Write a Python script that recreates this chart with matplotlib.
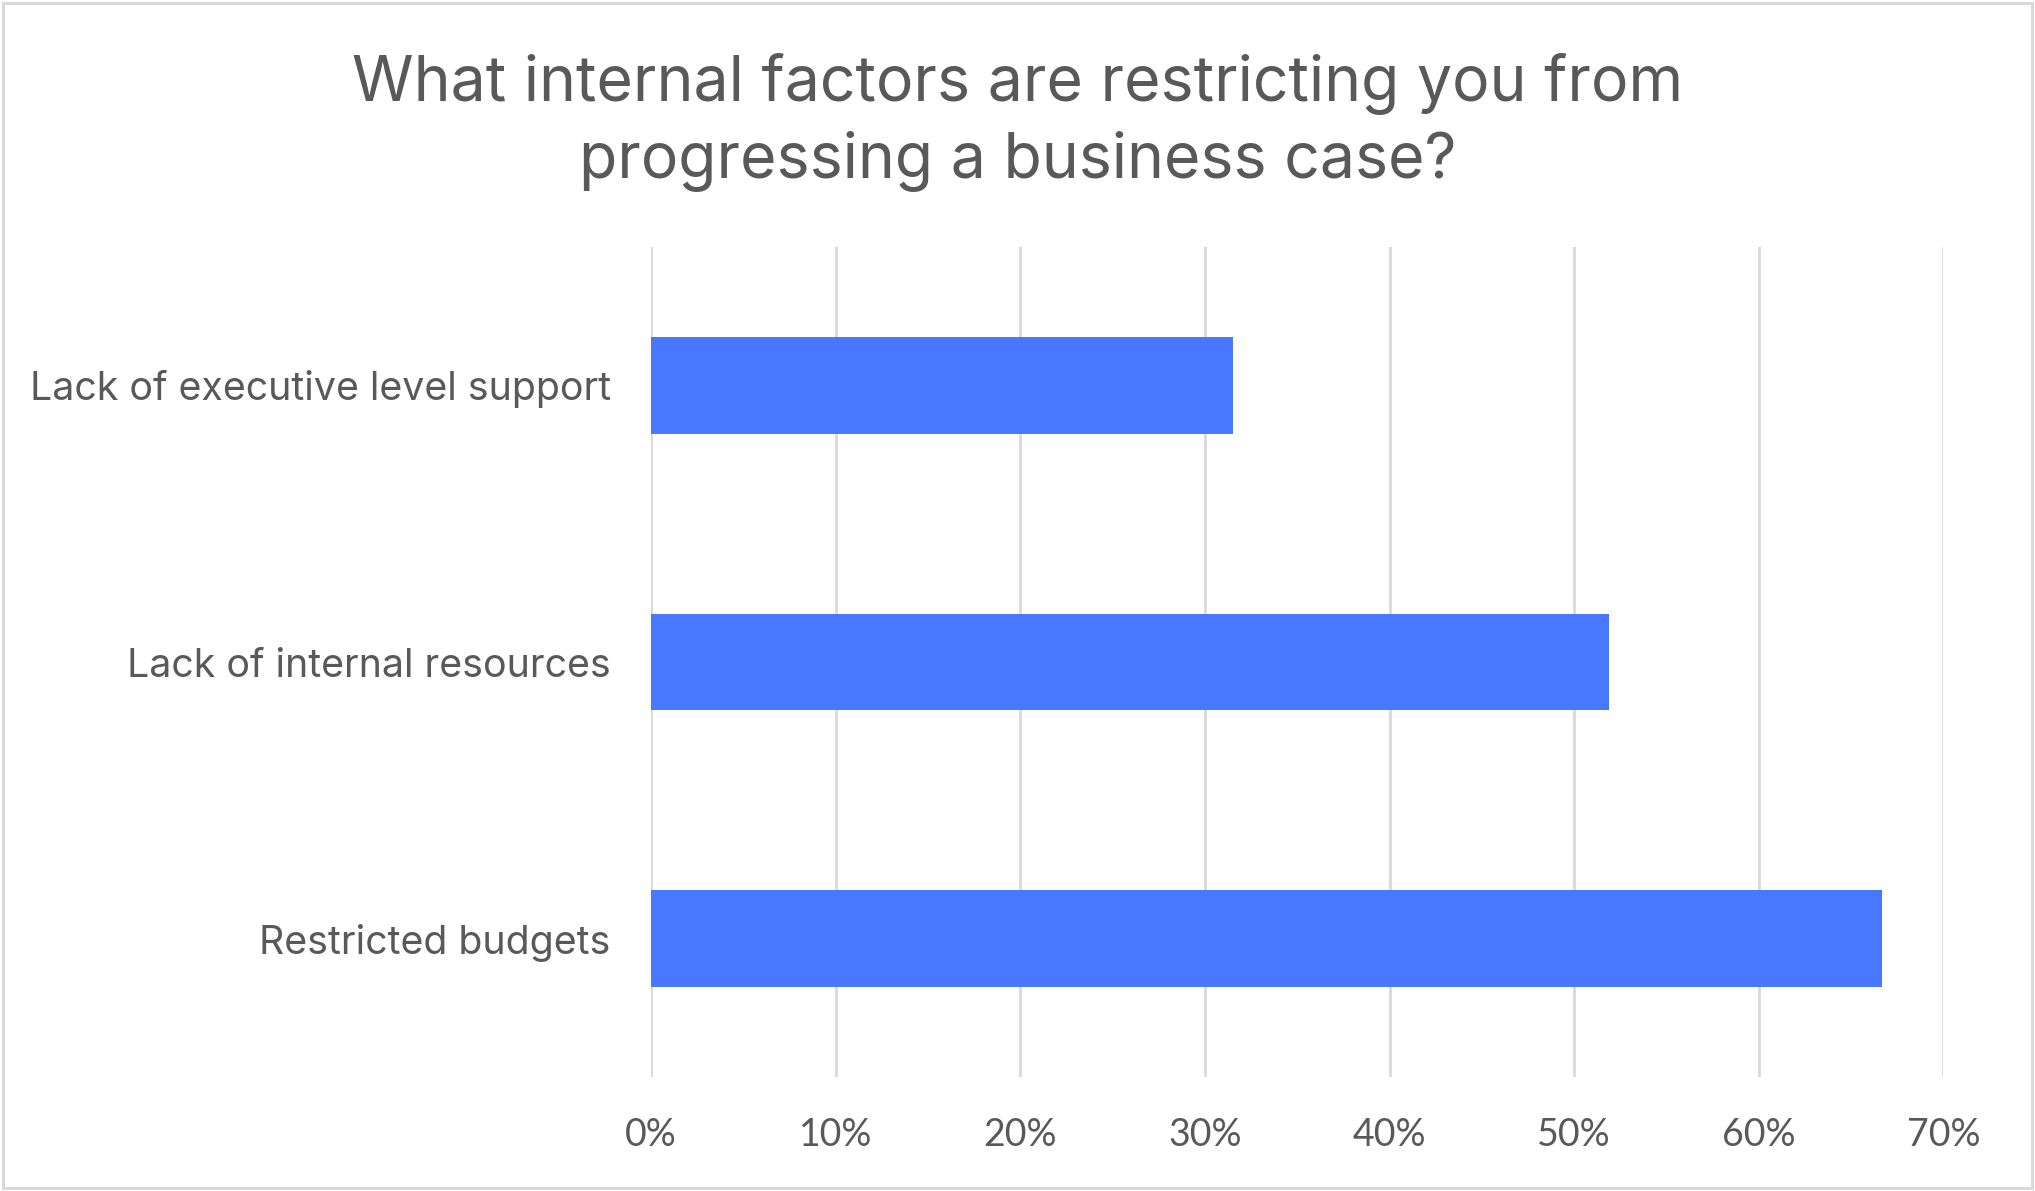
import matplotlib
matplotlib.use("Agg")
import matplotlib.pyplot as plt
from matplotlib.patches import Rectangle
from matplotlib.ticker import FuncFormatter

TEXT_CLR = "#595959"
BAR_CLR = "#4878FF"
GRID_CLR = "#D9D9D9"

title = "What internal factors are restricting you from\nprogressing a business case?"
categories = ["Lack of executive level support", "Lack of internal resources", "Restricted budgets"]
values = [31.5, 51.9, 66.7]
xticks = [0, 10, 20, 30, 40, 50, 60, 70]

fig = plt.figure(figsize=(20.35, 11.91), dpi=100)
fig.patch.set_facecolor("white")
fig.patches.append(Rectangle((0.0015, 0.0025), 0.997, 0.995, transform=fig.transFigure,
                             fill=False, edgecolor=GRID_CLR, lw=2.2))

ax = fig.add_axes([0.3199, 0.0957, 0.6351, 0.6969])
ypos = list(range(len(categories)))
ax.barh(ypos, values, height=0.35, color=BAR_CLR, zorder=3)
ax.set_ylim(len(categories) - 0.5, -0.5)
ax.set_xlim(0, 70)
ax.set_xticks(xticks)
ax.xaxis.set_major_formatter(FuncFormatter(lambda v, p: f"{v:.0f}%"))
ax.set_yticks(ypos)
ax.set_yticklabels(categories)
ax.grid(axis="x", color=GRID_CLR, lw=2, zorder=0)
ax.grid(axis="y", visible=False)
for s in ax.spines.values():
    s.set_visible(False)
ax.tick_params(axis="x", length=0, pad=29, labelsize=27, labelcolor=TEXT_CLR)
ax.tick_params(axis="y", length=0, pad=29, labelsize=28.3, labelcolor=TEXT_CLR)
for t in ax.get_xticklabels():
    t.set_fontfamily("Lato")
for t in ax.get_yticklabels():
    t.set_fontfamily("Inter")

fig.text(0.5, 0.898, title, ha="center", va="center", fontsize=45, color=TEXT_CLR,
         family="Inter", linespacing=1.33)

fig.savefig("out.png", dpi=100, facecolor="white")
